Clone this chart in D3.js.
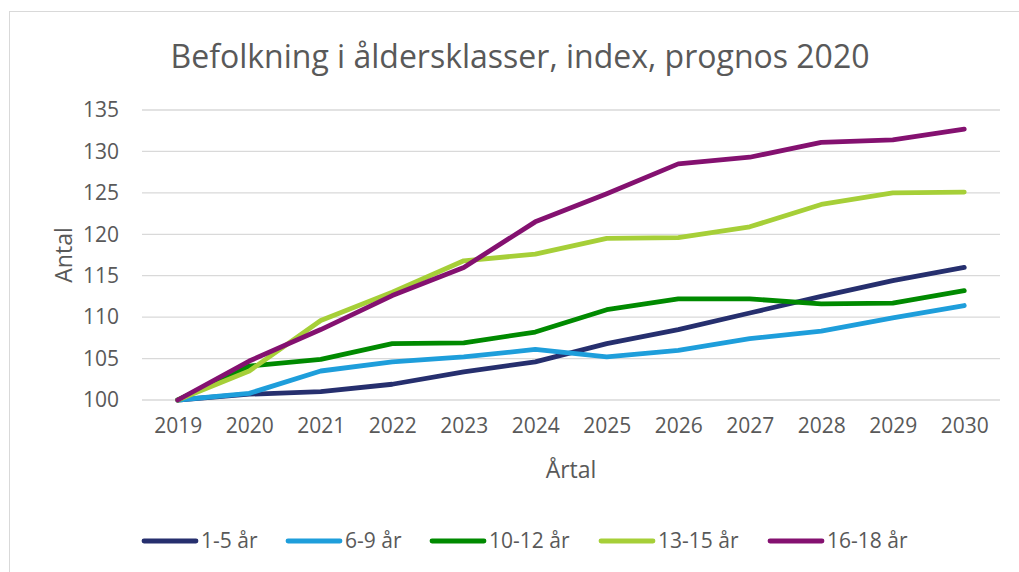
<!DOCTYPE html>
<html>
  <head>
    <title>Befolkning i åldersklasser</title>
    <meta charset="utf-8" />
    <script src="https://d3js.org/d3.v7.min.js"></script>
    <style>
      body { margin: 0; background: #fff; }
      text { font-family: "Open Sans", sans-serif; fill: #595959; }
    </style>
  </head>
  <body>
    <svg id="chart" width="1019" height="572"></svg>

    <script>
      // Data
      const years = ["2019", "2020", "2021", "2022", "2023", "2024", "2025", "2026", "2027", "2028", "2029", "2030"];
      const seriesNames = ["1-5 år", "6-9 år", "10-12 år", "13-15 år", "16-18 år"];
      const colors = ["#262f6e", "#1e9edb", "#008a00", "#a6cf38", "#841170"];
      const v1_5 = [100, 100.7, 101.0, 101.9, 103.4, 104.6, 106.8, 108.5, 110.5, 112.5, 114.4, 116.0];
      const v6_9 = [100, 100.8, 103.5, 104.6, 105.2, 106.1, 105.2, 106.0, 107.4, 108.3, 109.9, 111.4];
      const v10_12 = [100, 104.1, 104.9, 106.8, 106.9, 108.2, 110.9, 112.2, 112.2, 111.6, 111.7, 113.2];
      const v13_15 = [100, 103.5, 109.6, 113.0, 116.8, 117.6, 119.5, 119.6, 120.9, 123.6, 125.0, 125.1];
      const v16_18 = [100, 104.7, 108.5, 112.6, 116.0, 121.5, 124.9, 128.5, 129.3, 131.1, 131.4, 132.7];
      const yTicks = [100, 105, 110, 115, 120, 125, 130, 135];

      const allValues = [v1_5, v6_9, v10_12, v13_15, v16_18];

      const width = 1019;
      const height = 572;
      const margin = { top: 110, right: 19, bottom: 172, left: 142 };
      const svg = d3.select("#chart");

      // Ram runt diagrammet
      svg
        .append("rect")
        .attr("x", 9.5)
        .attr("y", 11.5)
        .attr("width", width + 20)
        .attr("height", height + 20)
        .attr("fill", "none")
        .attr("stroke", "#d9d9d9")
        .attr("stroke-width", 1);

      // Skalor
      const xScale = d3
        .scalePoint()
        .domain(years)
        .range([margin.left, width - margin.right])
        .padding(0.5);
      const yScale = d3
        .scaleLinear()
        .domain([100, 135])
        .range([height - margin.bottom, margin.top]);

      // Stödlinjer
      svg
        .append("g")
        .selectAll("line")
        .data(yTicks)
        .join("line")
        .attr("x1", margin.left)
        .attr("x2", width - margin.right)
        .attr("y1", (d) => yScale(d))
        .attr("y2", (d) => yScale(d))
        .attr("stroke", "#d9d9d9")
        .attr("stroke-width", 1.3);

      // Y-axel
      const yAxis = d3.axisLeft(yScale).tickValues(yTicks).tickSize(0).tickPadding(23);
      const gy = svg
        .append("g")
        .attr("transform", `translate(${margin.left},0)`)
        .call(yAxis);
      gy.select(".domain").remove();
      gy.selectAll("text").attr("font-size", "21px").attr("font-family", null);

      // X-axel
      const xAxis = d3.axisBottom(xScale).tickSize(0).tickPadding(18);
      const gx = svg
        .append("g")
        .attr("transform", `translate(0,${height - margin.bottom})`)
        .call(xAxis);
      gx.select(".domain").remove();
      gx.selectAll("text").attr("font-size", "21px").attr("font-family", null);

      // Linjer
      const line = d3
        .line()
        .x((d, i) => xScale(years[i]))
        .y((d) => yScale(d));

      svg
        .append("g")
        .selectAll("path")
        .data(allValues)
        .join("path")
        .attr("fill", "none")
        .attr("stroke", (d, i) => colors[i])
        .attr("stroke-width", 4.8)
        .attr("stroke-linejoin", "round")
        .attr("stroke-linecap", "round")
        .attr("d", line);

      // Titel
      svg
        .append("text")
        .attr("x", 520)
        .attr("y", 68)
        .attr("text-anchor", "middle")
        .attr("font-size", "32px")
        .text("Befolkning i åldersklasser, index, prognos 2020");

      // Axeltitlar
      svg
        .append("text")
        .attr("transform", "rotate(-90)")
        .attr("x", -255)
        .attr("y", 72)
        .attr("text-anchor", "middle")
        .attr("font-size", "23px")
        .text("Antal");
      svg
        .append("text")
        .attr("x", 571)
        .attr("y", 478)
        .attr("text-anchor", "middle")
        .attr("font-size", "23px")
        .text("Årtal");

      // Legend
      const legendX = [142, 286, 430, 599, 768];
      const legend = svg
        .append("g")
        .selectAll("g")
        .data(seriesNames)
        .join("g")
        .attr("transform", (d, i) => `translate(${legendX[i]},541)`);
      legend
        .append("line")
        .attr("x1", 2)
        .attr("x2", 54)
        .attr("stroke", (d, i) => colors[i])
        .attr("stroke-width", 4.8)
        .attr("stroke-linecap", "round");
      legend
        .append("text")
        .attr("x", 59)
        .attr("dy", "0.35em")
        .attr("font-size", "21px")
        .text((d) => d);
    </script>
  </body>
</html>
